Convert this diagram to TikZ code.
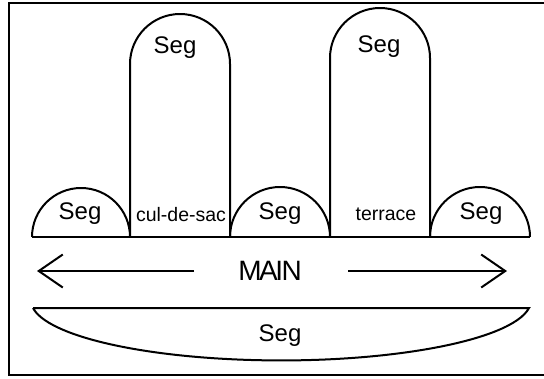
\documentclass[tikz,border=0pt]{standalone}
\usepackage{fontspec}
\setmainfont{Liberation Sans}
\usetikzlibrary{arrows.meta}

\begin{document}
\begin{tikzpicture}[x=1pt,y=-1pt,
  road/.style={line width=2pt},
  seglabel/.style={font=\fontsize{24}{24}\selectfont},
  kindlabel/.style={font=\fontsize{19.5}{19.5}\selectfont},
  mainarrow/.style={line width=2pt,-{Straight Barb[length=24pt,width=33pt]}}]
\useasboundingbox (0,0) rectangle (544,378);
\draw[line width=2pt] (546,3) -- (9,3) -- (9,375) -- (546,375);

\draw[road] (32,237) -- (530,237);
\draw[road] (32,237) arc[start angle=180,end angle=360,radius=49];
\draw[road] (130,237) -- (130,64) arc[start angle=180,end angle=360,radius=50] -- (230,237);
\draw[road] (230,237) arc[start angle=180,end angle=360,radius=50];
\draw[road] (330,237) -- (330,58) arc[start angle=180,end angle=360,radius=50] -- (430,237);
\draw[road] (430,237) arc[start angle=180,end angle=360,radius=50];

\draw[road] (33,308) -- (529,308) arc[start angle=7.25,end angle=172.75,x radius=250,y radius=60] -- cycle;

\node[seglabel] (segA) at (80,214) {Seg};
\node[seglabel] (segB) at (175,48) {Seg};
\node[seglabel] (segC) at (280,214) {Seg};
\node[seglabel] (segD) at (379,47) {Seg};
\node[seglabel] (segE) at (481,214) {Seg};
\node[seglabel] (segF) at (280,336) {Seg};
\node[kindlabel] (culdesac) at (181,215) {cul-de-sac};
\node[kindlabel] (terrace) at (386,214) {terrace};

\node[font=\fontsize{28}{28}\selectfont] (main) at (270,271) {M\kern-2.5ptA\kern-2.5ptI\kern-1.5ptN};
\coordinate (westtail) at (194,271);
\coordinate (westtip) at (37,271);
\coordinate (easttail) at (348,271);
\coordinate (easttip) at (507,271);
\draw[mainarrow] (westtail) -- (westtip);
\draw[mainarrow] (easttail) -- (easttip);
\end{tikzpicture}
\end{document}
